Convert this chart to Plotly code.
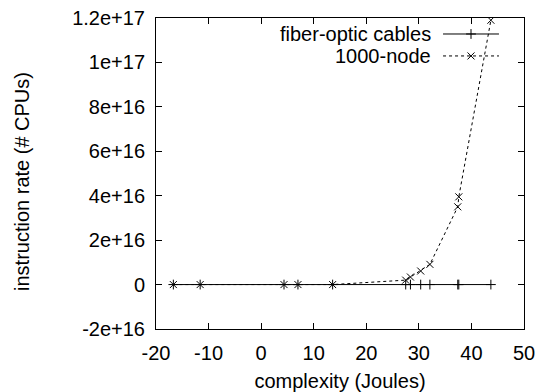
import plotly.graph_objects as go

# Data
x_vals = [-16.7, -11.6, 4.35, 7.0, 13.6, 27.5, 28.4, 30.35, 32.1, 37.4, 37.6, 43.7]
fiber = [0, 0, 0, 0, 0, 0, 0, 0, 0, 0, 0, 0]
node1000 = [0, 0, 0, 0, 0, 2.0e15, 3.4e15, 6.1e15, 9.1e15, 3.5e16, 3.95e16, 1.19e17]

x_ticks = [-20, -10, 0, 10, 20, 30, 40, 50]
x_tick_text = ["-20", "-10", "0", "10", "20", "30", "40", "50"]
y_ticks = [-2e16, 0, 2e16, 4e16, 6e16, 8e16, 1e17, 1.2e17]
y_tick_text = ["-2e+16", "0", "2e+16", "4e+16", "6e+16", "8e+16", "1e+17", "1.2e+17"]

series_names = ["fiber-optic cables", "1000-node"]

FONT = "Liberation Sans, Arial, sans-serif"
FS = 20

fig = go.Figure()
fig.add_trace(go.Scatter(
    x=x_vals, y=fiber, mode="lines+markers", name=series_names[0], showlegend=False,
    line=dict(color="black", width=1),
    marker=dict(symbol="cross-thin", size=7, line=dict(color="black", width=1)),
))
fig.add_trace(go.Scatter(
    x=x_vals, y=node1000, mode="lines+markers", name=series_names[1], showlegend=False,
    line=dict(color="black", width=1, dash="3px,3px"),
    marker=dict(symbol="x-thin", size=7, line=dict(color="black", width=1)),
))

# Custom gnuplot-style legend (text right-aligned, sample to its right)
leg_y = [0.9486, 0.878]
leg_x0, leg_x1 = 0.780, 0.932
leg_text_x = 0.752
styles = [dict(dash="solid", sym="cross-thin"), dict(dash="3px,3px", sym="x-thin")]
for name, ly, st in zip(series_names, leg_y, styles):
    fig.add_annotation(x=leg_text_x, y=ly, xref="paper", yref="paper", text=name,
                       showarrow=False, xanchor="right", yanchor="middle",
                       font=dict(family=FONT, size=FS, color="black"))
    fig.add_shape(type="line", xref="paper", yref="paper", x0=leg_x0, x1=leg_x1,
                  y0=ly, y1=ly, line=dict(color="black", width=1, dash=st["dash"]))
    fig.add_trace(go.Scatter(
        x=[(leg_x0 + leg_x1) / 2], y=[ly], xaxis="x2", yaxis="y2", mode="markers",
        showlegend=False, hoverinfo="skip",
        marker=dict(symbol=st["sym"], size=7, line=dict(color="black", width=1)),
    ))

fig.add_annotation(x=0, y=0.4727, xref="paper", yref="paper", text="instruction rate (# CPUs)",
                   textangle=-90, showarrow=False, xshift=-134, xanchor="center", yanchor="middle",
                   font=dict(family=FONT, size=FS, color="black"))

axis_common = dict(showline=True, linecolor="black", linewidth=1, mirror="allticks",
                   ticks="inside", ticklen=6, tickcolor="black", tickwidth=1,
                   showgrid=False, zeroline=False, automargin=False,
                   tickfont=dict(family=FONT, size=FS, color="black"))

fig.update_layout(
    width=542, height=392,
    margin=dict(l=156, r=18, t=18, b=63),
    paper_bgcolor="white", plot_bgcolor="white",
    xaxis=dict(range=[-20, 50], tickvals=x_ticks, ticktext=x_tick_text, ticklabelstandoff=6,
               title=dict(text="complexity (Joules)", font=dict(family=FONT, size=FS, color="black"),
                          standoff=16),
               **axis_common),
    yaxis=dict(range=[-2e16, 1.2e17], tickvals=y_ticks, ticktext=y_tick_text,
               ticklabelstandoff=6, **axis_common),
    xaxis2=dict(range=[0, 1], overlaying="x", visible=False),
    yaxis2=dict(range=[0, 1], overlaying="y", visible=False),
    showlegend=False,
)

fig.write_html("out.html")
